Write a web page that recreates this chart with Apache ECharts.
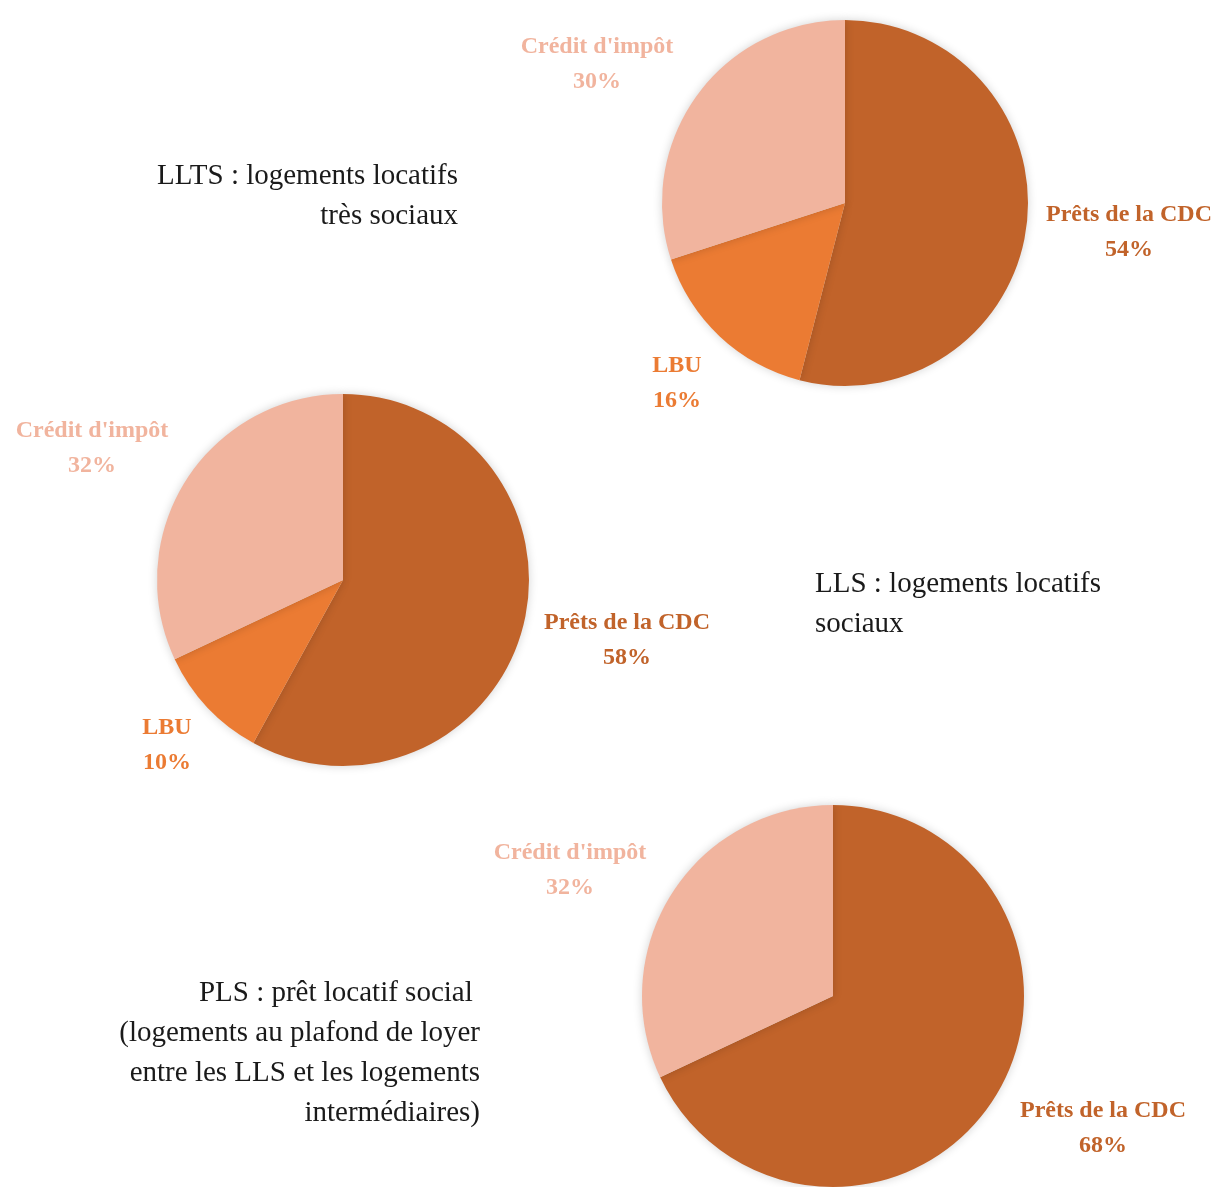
<!DOCTYPE html>
<html>
<head>
<meta charset="utf-8">
<style>
  html, body { margin: 0; padding: 0; background: #fff; }
  #main { width: 1219px; height: 1187px; }
</style>
<script src="https://cdn.jsdelivr.net/npm/echarts@6/dist/echarts.min.js"></script>
</head>
<body>
<div id="main"></div>
<script>
// données (en %)
var categories = ['Prêts de la CDC', 'LBU', "Crédit d'impôt"];
var colors = ['#C1632A', '#EB7B33', '#F1B49E'];
var llts = [54, 16, 30];
var lls = [58, 10, 32];
var pls = [68, 0, 32];

var chartDom = document.getElementById('main');
var myChart = echarts.init(chartDom);
var font = '"Liberation Serif", "DejaVu Serif", serif';

// positions des étiquettes (centre du bloc de texte) par camembert
var labelPos = [
  [[1129, 232], [677, 383], [597, 64]],
  [[627, 640], [167, 745], [92, 448]],
  [[1103, 1128], [0, 0], [570, 870]]
];

function buildData(values) {
  var out = [];
  values.forEach(function (v, i) {
    if (v > 0) out.push({ value: v, name: categories[i], itemStyle: { color: colors[i] }, label: { color: colors[i] } });
  });
  return out;
}

function pieSeries(idx, values, center, radius) {
  return {
    type: 'pie',
    center: center,
    radius: radius,
    startAngle: 90,
    clockwise: true,
    silent: true,
    itemStyle: {
      shadowBlur: 10,
      shadowColor: 'rgba(0,0,0,0.18)'
    },
    label: {
      show: true,
      position: 'outside',
      formatter: '{b}\n{c}%',
      fontFamily: font,
      fontSize: 24,
      fontWeight: 'bold',
      lineHeight: 35,
      align: 'center',
      overflow: 'none',
      width: 300
    },
    labelLine: { show: false },
    labelLayout: function (params) {
      var ci = categories.indexOf(params.text.split('\n')[0]);
      var p = labelPos[idx][ci];
      return { x: p[0], y: p[1], align: 'center', verticalAlign: 'middle', width: 300 };
    },
    data: buildData(values)
  };
}

function note(lines, x, y, align) {
  return {
    type: 'text',
    x: x,
    y: y,
    style: {
      text: lines.join('\n'),
      fill: '#1a1a1a',
      font: '29px ' + font,
      lineHeight: 40,
      align: align,
      verticalAlign: 'top'
    }
  };
}

var option = {
  backgroundColor: '#fff',
  animation: false,
  series: [
    pieSeries(0, llts, [845, 203], 183),
    pieSeries(1, lls, [343, 580], 186),
    pieSeries(2, pls, [833, 996], 191)
  ],
  graphic: [
    note(['LLTS : logements locatifs', 'très sociaux'], 458, 156, 'right'),
    note(['LLS : logements locatifs', 'sociaux'], 815, 564, 'left'),
    note(['PLS : prêt locatif social ', '(logements au plafond de loyer', 'entre les LLS et les logements', 'intermédiaires)'], 480, 973, 'right')
  ]
};

myChart.setOption(option);
</script>
</body>
</html>
